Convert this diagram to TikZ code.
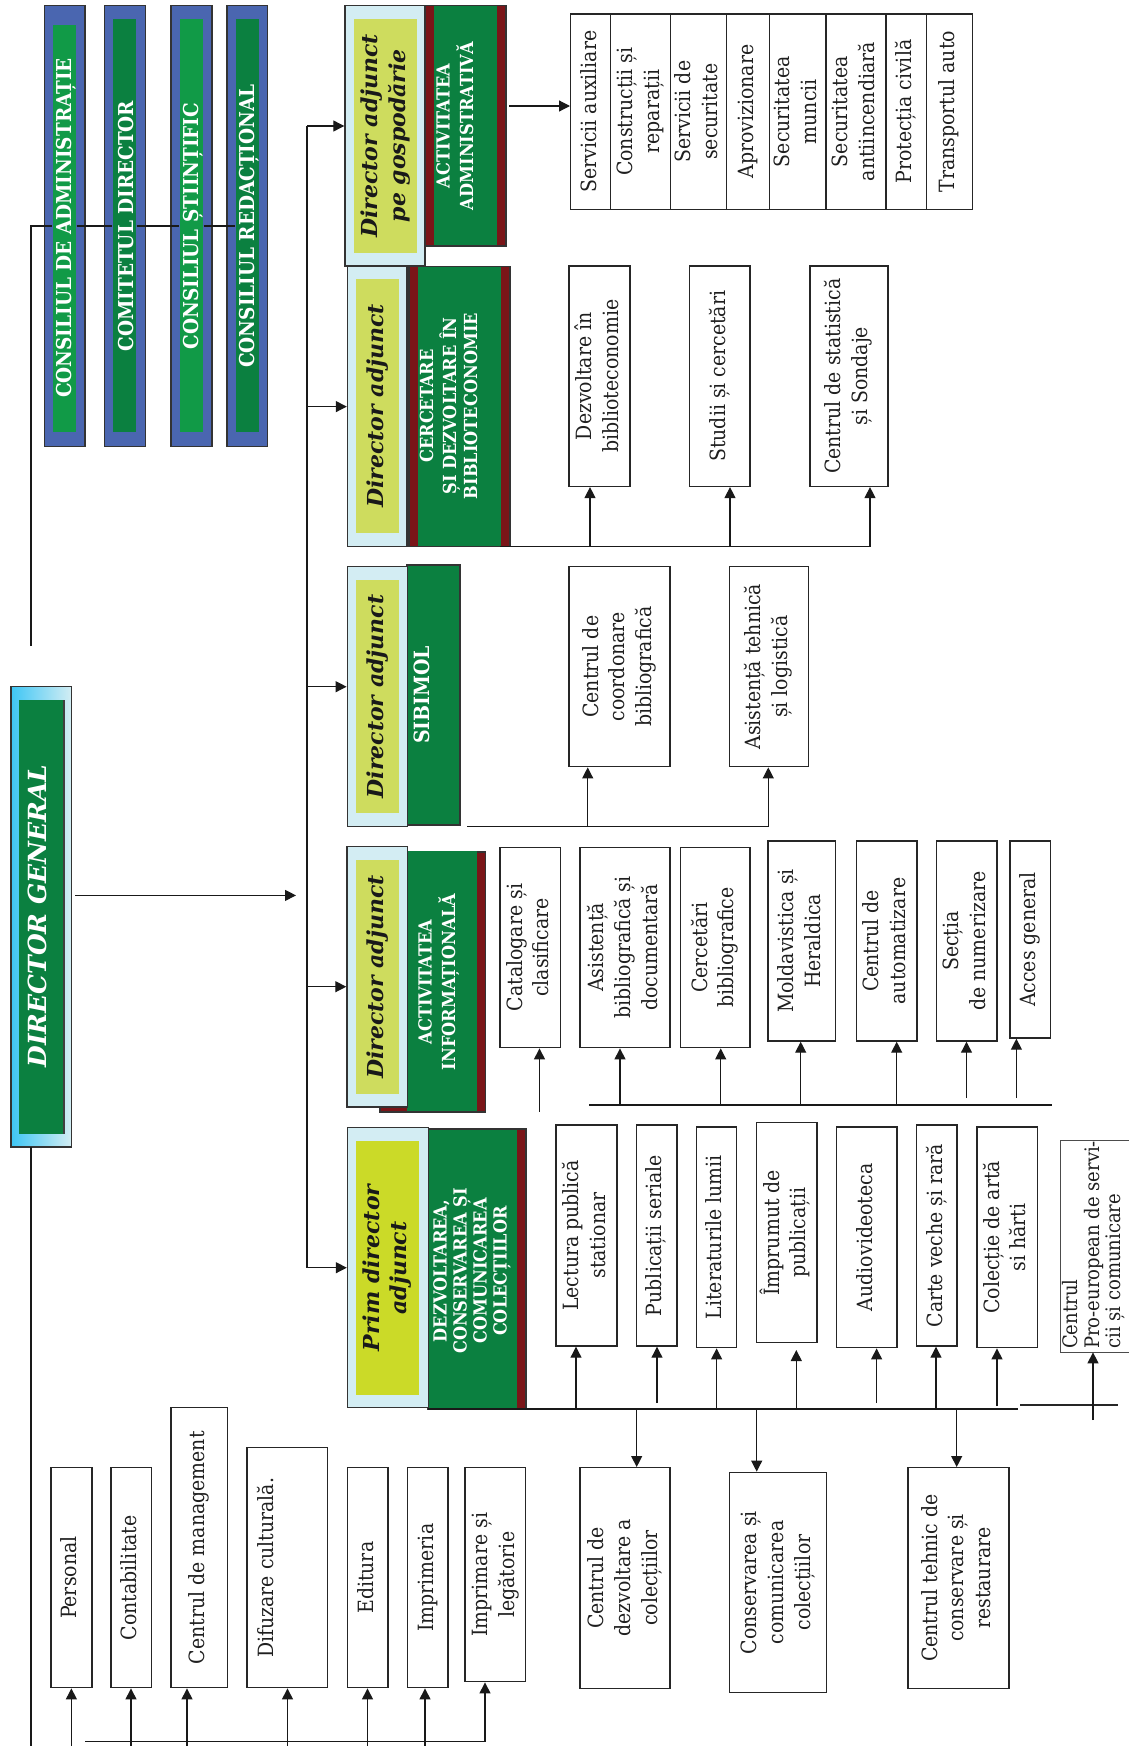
\documentclass[tikz,border=0pt]{standalone}
\usepackage{fontspec}
\usepackage{graphicx}
\setmainfont{DejaVu Serif Condensed}
\newfontfamily\dvs{DejaVu Serif}
\usetikzlibrary{arrows.meta}
\definecolor{cblue}{HTML}{4A66B0}
\definecolor{cgreenL}{HTML}{119A47}
\definecolor{cgreen}{HTML}{0B8040}
\definecolor{clblue}{HTML}{D3EDF3}
\definecolor{cyel}{HTML}{CEDC5E}
\definecolor{cyelb}{HTML}{CBDA28}
\definecolor{cmaroon}{HTML}{7A1518}
\definecolor{ccyan}{HTML}{3EC6F4}
\definecolor{cedge}{HTML}{333333}
\newcommand\rt[1]{\rotatebox{90}{\begin{tabular}{@{}c@{}}#1\end{tabular}}}
\newcommand\rtl[1]{\rotatebox{90}{\begin{tabular}{@{}l@{}}#1\end{tabular}}}
\newcommand\rtp[1]{\rotatebox{90}{#1}}
\newcommand\placebox[7][]{%
  \pgfmathsetmacro\pbw{#5-#3}%
  \pgfmathsetmacro\pbh{#6-#4}%
  \node[box,#1,minimum width=\pbw pt,minimum height=\pbh pt] (#2) at ({(#3+#5)/2},{(#4+#6)/2}) {\rt{#7}};}
\tikzset{
  ln/.style={line width=1.2pt, draw=black!90},
  arr/.style={ln, -{Triangle[length=11pt,width=11pt]}},
  box/.style={draw=black!85, line width=1.4pt, fill=white, inner sep=0pt, text=black!88, font=\fontsize{21}{26.7}\selectfont},
  cout/.style={fill=cblue, draw=cedge},
  cin/.style={draw=none, fill=cgreenL, text=white, font=\bfseries\fontsize{20.5}{24}\selectfont},
  cin2/.style={cin, fill=cgreen},
  lbl/.style={fill=clblue, draw=cedge},
  yel/.style={draw=none, fill=cyel, text=black!90, font=\dvs\bfseries\itshape\fontsize{22}{28}\selectfont},
  grn/.style={fill=cgreen, draw=cedge},
  grnin/.style={fill=cgreen, draw=none},
  mar/.style={fill=cmaroon, draw=cedge},
  wlab/.style={inner sep=0pt, text=white, font=\bfseries\fontsize{18}{22}\selectfont},
}
\begin{document}
\begin{tikzpicture}[x=1pt,y=-1pt]
\useasboundingbox (0,0) rectangle (1128,1746);
\fill[white] (0,0) rectangle (1128,1746);

% ---------- councils ----------
\placebox[cout]{caO}{44.6}{5.7}{85}{446.6}{}
\placebox[cout]{cdO}{104.3}{5.7}{145.4}{446.6}{}
\placebox[cout]{csO}{171}{5.7}{211.8}{446.6}{}
\placebox[cout]{crO}{227}{5.7}{267.5}{446.6}{}
\placebox[cin]{ca}{52.9}{25}{76}{432}{}
\placebox[cin2]{cd}{112.9}{19}{136}{432}{}
\placebox[cin]{cs}{180}{19}{202.9}{432}{}
\placebox[cin2]{cr}{236}{19}{259}{432}{}
\node[cin,fill=none,inner sep=0pt] at (66,228) {\rtp{CONSILIUL DE ADMINISTRAȚIE}};
\node[cin2,fill=none,inner sep=0pt] at (126,226) {\rtp{COMITETUL DIRECTOR}};
\node[cin,fill=none,inner sep=0pt] at (193,226) {\rtp{CONSILIUL ȘTIINȚIFIC}};
\node[cin2,fill=none,inner sep=0pt] at (249,226) {\rtp{CONSILIUL REDACȚIONAL}};
\coordinate (jt) at (31,226);
\coordinate (jtb) at (31,646);
\draw[ln] (jtb) -- (jt) -- (jt -| ca.west);
\draw[ln] (jt -| ca.east) -- (jt -| cd.west);
\draw[ln] (jt -| cd.east) -- (jt -| cs.west);
\draw[ln] (jt -| cs.east) -- (jt -| cr.west);

% ---------- director general ----------
\placebox[draw=cedge,left color=ccyan,right color=clblue]{dgO}{11}{686.4}{71.3}{1147}{}
\fill[black!75] (19,700) rectangle (64.5,1134);
\placebox[grnin]{dg}{19}{700}{62.7}{1134}{}
\node[inner sep=0pt,text=white,font=\dvs\bfseries\itshape\fontsize{25}{30}\selectfont] (dgt) at (37,916) {\rtp{DIRECTOR GENERAL}};
\coordinate (dga) at (75,895.4);
\coordinate (dgb) at (296,895.4);
\draw[arr] (dga) -- (dgb);
\coordinate (lb1) at (31,1147);
\coordinate (lb2) at (31,1750);
\draw[ln] (lb1) -- (lb2);

% ---------- main bus ----------
\coordinate (b1) at (307,126);
\coordinate (b2) at (307,406.6);
\coordinate (b3) at (307,686.7);
\coordinate (b4) at (307,986.7);
\coordinate (b5) at (307,1267.7);
\draw[ln] (b1) -- (b5);

% ---------- gospodarie ----------
\placebox[lbl]{gos}{345}{5.7}{425}{266}{}
\placebox[yel]{gosy}{354}{19}{417}{252.6}{Director adjunct\\pe gospodărie}
\placebox[mar]{admM}{425}{5.7}{506}{246}{}
\placebox[grnin]{adm}{434}{6.4}{497}{245.3}{}
\node[wlab] at (457,126) {\rt{ACTIVITATEA\\ADMINISTRATIVĂ}};
\draw[arr] (b1) -- (b1 -| gos.west);

\placebox{t1}{570.7}{14}{610.7}{209.3}{Servicii auxiliare}
\placebox{t2}{610.7}{14}{670.7}{209.3}{Construcții și\\reparații}
\placebox{t3}{670.7}{14}{726.7}{209.3}{Servicii de\\securitate}
\placebox{t4}{726.7}{14}{769.3}{209.3}{Aprovizionare}
\placebox{t5}{769.3}{14}{826}{209.3}{Securitatea\\muncii}
\placebox{t6}{826}{14}{886}{209.3}{Securitatea\\antiincendiară}
\placebox{t7}{886}{14}{926.7}{209.3}{Protecția civilă}
\placebox{t8}{926.7}{14}{972.3}{209.3}{Transportul auto}
\coordinate (aa) at (509,106);
\draw[arr] (aa) -- (aa -| t1.west);

% ---------- cercetare ----------
\placebox[lbl]{cer}{347.5}{266.7}{407}{546.5}{}
\placebox[yel]{cery}{356.4}{279}{399}{532.7}{Director adjunct}
\placebox[mar]{cerM}{409}{266.7}{510}{546.5}{}
\placebox[grnin]{cerg}{418}{267.4}{501}{545.8}{}
\node[wlab,font=\bfseries\fontsize{18}{21}\selectfont] at (451,406) {\rt{CERCETARE\\ȘI DEZVOLTARE ÎN\\BIBLIOTECONOMIE}};
\draw[arr] (b2) -- (b2 -| cer.west);
\placebox{dz}{569}{266}{630}{486.4}{Dezvoltare în\\biblioteconomie}
\placebox{st}{689.6}{266}{750}{486.4}{Studii și cercetări}
\placebox{cst}{810}{266}{888}{486.4}{Centrul de statistică\\și Sondaje}
\coordinate (cb0) at (500,546.5);
\coordinate (cb1) at (590,546.5);
\coordinate (cb2) at (730,546.5);
\coordinate (cb3) at (870,546.5);
\draw[ln] (cb0) -- (cb3);
\draw[arr] (cb1) -- (cb1 |- dz.south);
\draw[arr] (cb2) -- (cb2 |- st.south);
\draw[arr] (cb3) -- (cb3 |- cst.south);

% ---------- SIBIMOL ----------
\placebox[grn]{sibg}{407}{565}{460}{825}{}
\placebox[lbl]{sib}{347.3}{566.7}{407.3}{826.7}{}
\placebox[yel]{siby}{356}{580}{399}{813}{Director adjunct}
\node[wlab,font=\bfseries\fontsize{21}{26}\selectfont] at (424,695) {\rt{SIBIMOL}};
\draw[arr] (b3) -- (b3 -| sib.west);
\placebox{ccb}{569}{566.7}{670}{766.7}{Centrul de\\coordonare\\bibliografică}
\placebox{atl}{729.7}{566.7}{808.3}{766.7}{Asistență tehnică\\și logistică}
\coordinate (sb0) at (467,826.7);
\coordinate (sb1) at (587.7,826.7);
\coordinate (sb2) at (768.3,826.7);
\draw[ln] (sb0) -- (sb2);
\draw[arr] (sb1) -- (sb1 |- ccb.south);
\draw[arr] (sb2) -- (sb2 |- atl.south);

% ---------- informationala ----------
\placebox[mar]{infM}{380}{852}{485.6}{1112}{}
\placebox[grnin]{infg}{407}{851}{477.4}{1111}{}
\placebox[lbl]{inf}{347}{846.7}{407.6}{1107}{}
\placebox[yel]{infy}{356}{860}{399}{1094}{Director adjunct}
\node[wlab] at (439,982) {\rt{ACTIVITATEA\\INFORMAȚIONALĂ}};
\draw[arr] (b4) -- (b4 -| inf.west);
\placebox{cat}{500}{847.3}{560.3}{1047.7}{Catalogare și\\clasificare}
\placebox{asb}{580}{847.3}{670}{1047.7}{Asistență\\bibliografică și\\documentară}
\placebox{cbi}{680.5}{847.3}{750}{1047.7}{Cercetări\\bibliografice}
\placebox{mol}{767.8}{841}{835.6}{1041}{Moldavistica și\\Heraldica}
\placebox{aut}{856.5}{841}{917}{1041}{Centrul de\\automatizare}
\placebox{num}{936.5}{841}{997}{1041}{Secția\\de numerizare}
\placebox{acc}{1010}{841}{1050.4}{1038}{Acces general}
\coordinate (ic) at (539.5,1111.7);
\draw[arr] (ic) -- (ic |- cat.south);
\coordinate (ib0) at (589.4,1105);
\coordinate (ib9) at (1052,1105);
\draw[ln] (ib0) -- (ib9);
\coordinate (ib1) at (620,1105);
\coordinate (ib2) at (720.7,1105);
\coordinate (ib3) at (800.7,1105);
\coordinate (ib4) at (896.7,1105);
\coordinate (ib5) at (966.5,1098);
\coordinate (ib6) at (1016.4,1098);
\draw[arr] (ib1) -- (ib1 |- asb.south);
\draw[arr] (ib2) -- (ib2 |- cbi.south);
\draw[arr] (ib3) -- (ib3 |- mol.south);
\draw[arr] (ib4) -- (ib4 |- aut.south);
\draw[arr] (ib5) -- (ib5 |- num.south);
\draw[arr] (ib6) -- (ib6 |- acc.south);

% ---------- prim director / dezvoltarea ----------
\placebox[mar]{dzM}{428}{1129}{526}{1409}{}
\placebox[grnin]{dzg}{428.6}{1129.7}{516.5}{1408.3}{}
\placebox[lbl]{prim}{347.5}{1127.3}{428.3}{1407.7}{}
\placebox[yel,fill=cyelb,font=\dvs\bfseries\itshape\fontsize{22}{27}\selectfont]{primy}{356}{1141}{418.8}{1395}{Prim director\\adjunct}
\node[wlab,font=\bfseries\fontsize{18}{20}\selectfont] at (472.5,1271) {\rt{DEZVOLTAREA,\\CONSERVAREA ȘI\\COMUNICAREA\\COLECȚIILOR}};
\draw[arr] (b5) -- (b5 -| prim.west);
\placebox{lec}{556}{1125}{616.8}{1346}{Lectura publică\\stationar}
\placebox{pub}{636.3}{1125}{677}{1346}{Publicații seriale}
\placebox{lit}{696.5}{1127}{736.6}{1347.7}{Literaturile lumii}
\placebox{imp}{756.7}{1122.7}{817}{1342.7}{Împrumut de\\publicații}
\placebox{aud}{836.4}{1127}{897}{1347.7}{Audiovideoteca}
\placebox{car}{916.7}{1125}{956.8}{1346}{Carte veche și rară}
\placebox{col}{976.9}{1127}{1037.6}{1347.7}{Colecție de artă\\si hărti}
\placebox[line width=0.7pt,draw=black!70]{cpe}{1060}{1140}{1145}{1352}{}
\node[inner sep=0pt,text=black!88,font=\fontsize{20}{21.5}\selectfont,anchor=south] (cpet) at (1095,1349) {\rtl{Centrul\\Pro-european de servi-\\cii și comunicare}};
\coordinate (db0) at (428,1409);
\coordinate (db9) at (1018,1409);
\draw[ln] (db0) -- (db9);
\coordinate (dt1) at (1020,1405);
\coordinate (dt2) at (1118,1405);
\draw[line width=2.4pt,draw=black!85] (dt1) -- (dt2);
\coordinate (d1) at (576,1409);
\coordinate (d2) at (657,1403);
\coordinate (d3) at (716.6,1409);
\coordinate (d4) at (796.3,1409);
\coordinate (d4e) at (796.3,1350);
\coordinate (d5) at (876.6,1403);
\coordinate (d6) at (936,1409);
\coordinate (d7) at (997,1406);
\coordinate (d8) at (1093,1420);
\draw[arr] (d1) -- (d1 |- lec.south);
\draw[arr] (d2) -- (d2 |- pub.south);
\draw[arr] (d3) -- (d3 |- lit.south);
\draw[arr] (d4) -- (d4e);
\draw[arr] (d5) -- (d5 |- aud.south);
\draw[arr] (d6) -- (d6 |- car.south);
\draw[arr] (d7) -- (d7 |- col.south);
\draw[arr] (d8) -- (d8 |- cpe.south);
\placebox{cdc}{580}{1467.7}{670}{1688.3}{Centrul de\\dezvoltare a\\colecțiilor}
\placebox{ccc}{729.3}{1472.3}{826.7}{1692.7}{Conservarea și\\comunicarea\\colecțiilor}
\placebox{ctc}{908}{1467.7}{1009}{1688.3}{Centrul tehnic de\\conservare și\\restaurare}
\coordinate (e1) at (636.7,1409);
\coordinate (e2) at (756.7,1409);
\coordinate (e3) at (956.7,1409);
\draw[arr] (e1) -- (e1 |- cdc.north);
\draw[arr] (e2) -- (e2 |- ccc.north);
\draw[arr] (e3) -- (e3 |- ctc.north);

% ---------- bottom left ----------
\placebox{per}{51}{1467.7}{91.8}{1687.7}{Personal}
\placebox{con}{111}{1467.7}{151.4}{1687.7}{Contabilitate}
\placebox{cma}{171}{1407.7}{227.5}{1687.7}{Centrul de management}
\placebox{dif}{247}{1447.7}{327.5}{1687.7}{Difuzare culturală.\\[12pt]~}
\placebox{edi}{347.5}{1467.7}{387.9}{1687.7}{Editura}
\placebox{ipm}{407.5}{1467.7}{447.9}{1687.7}{Imprimeria}
\placebox{ile}{465}{1467.7}{525.7}{1681.7}{Imprimare și\\legătorie}
\coordinate (p1) at (71.4,1750);
\coordinate (p2) at (131,1750);
\coordinate (p3) at (187,1750);
\coordinate (p4) at (287.5,1750);
\coordinate (p5) at (367.5,1750);
\coordinate (p6) at (425,1750);
\draw[arr] (p1) -- (p1 |- per.south);
\draw[arr] (p2) -- (p2 |- con.south);
\draw[arr] (p3) -- (p3 |- cma.south);
\draw[arr] (p4) -- (p4 |- dif.south);
\draw[arr] (p5) -- (p5 |- edi.south);
\draw[arr] (p6) -- (p6 |- ipm.south);
\coordinate (pb0) at (85,1741.7);
\coordinate (pb1) at (485,1741.7);
\draw[arr] (pb0) -- (pb1) -- (pb1 |- ile.south);
\end{tikzpicture}
\end{document}
